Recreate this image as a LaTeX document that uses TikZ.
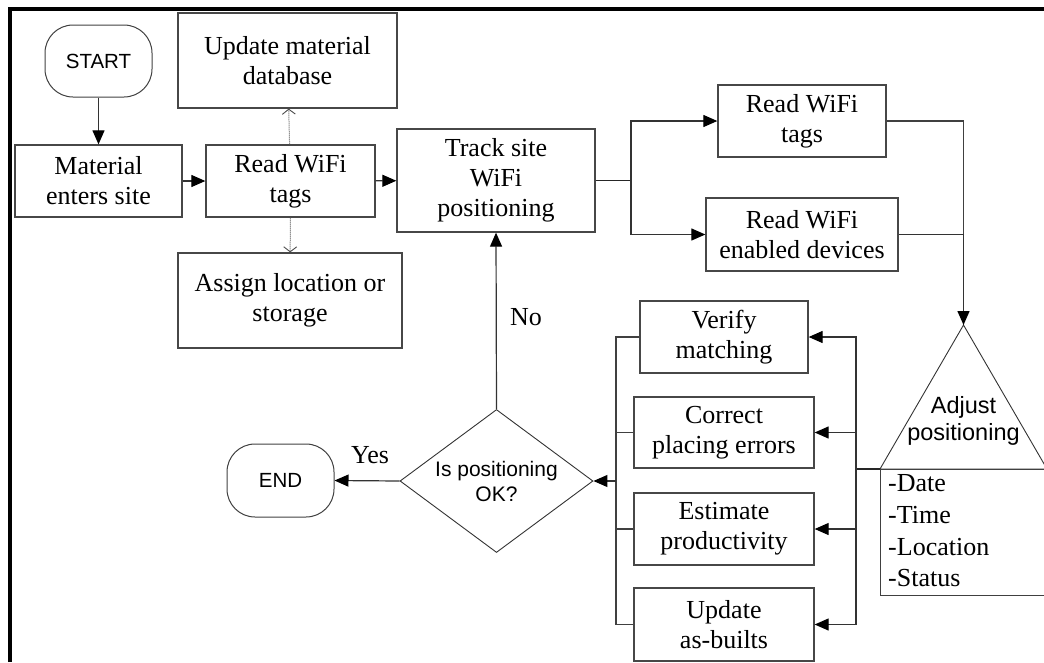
\documentclass[tikz,border=0pt]{standalone}
\usepackage{fontspec}
\setmainfont{Liberation Serif}
\newfontfamily\sansf{Liberation Sans}
\usetikzlibrary{arrows.meta,shapes.geometric}
\newcommand\serifbig{\fontsize{26}{30}\selectfont}
\tikzset{
  box/.style={draw=black!72, line width=1.3pt, inner sep=0pt, align=center, font=\serifbig},
  term/.style={draw=black!75, line width=1pt, rounded corners=28pt, minimum width=107pt,
    minimum height=72pt, inner sep=0pt, font=\sansf\fontsize{20.5}{24}\selectfont},
  dia/.style={diamond, draw=black!80, line width=0.9pt, aspect=1.35, inner sep=0pt,
    minimum width=193pt, minimum height=143pt, align=center, font=\sansf\fontsize{21}{25}\selectfont},
  arr/.style={draw=black!80, line width=1.2pt, -{Triangle[length=14pt,width=12pt,color=black]}},
  ln/.style={draw=black!75, line width=1.2pt},
  thk/.style={draw=black!85, line width=1.8pt},
  dotarr/.style={draw=black!65, densely dotted, line width=1pt,
    -{Straight Barb[length=5pt,width=13pt,line width=0.9pt,color=black!70]}},
  tri/.style={draw=black!80, line width=0.9pt},
  lbl/.style={font=\serifbig, inner sep=0pt, anchor=base}
}
\begin{document}
\begin{tikzpicture}[x=1pt,y=-1pt]
\useasboundingbox (0,0) rectangle (1044,662);
% frame
\draw[line width=3.2pt] (10,662) -- (10,9) -- (1044,9);

% nodes
\node[term] (start) at (98.5,61) {START};
\node[box, minimum width=167pt, minimum height=72pt] (material) at (98.5,181) {Material\\enters site};
\node[box, minimum width=169pt, minimum height=72pt] (read1) at (290.5,181) {Read WiFi\\tags};
\node[box, minimum width=219pt, minimum height=95pt] (update) at (287.5,60.5) {Update material\\database};
\node[box, minimum width=224pt, minimum height=95pt] (assign) at (290,300.5) {Assign location or\\storage};
\node[box, minimum width=198pt, minimum height=103pt] (track) at (496,180.5) {Track site\\WiFi\\positioning};
\node[box, minimum width=168pt, minimum height=72pt] (read2) at (802,121) {Read WiFi\\tags};
\node[box, minimum width=192pt, minimum height=73pt] (read3) at (802,234.5) {Read WiFi\\enabled devices};
\node[box, minimum width=168pt, minimum height=72pt] (verify) at (724,337) {Verify\\matching};
\node[box, minimum width=180pt, minimum height=71pt] (correct) at (724,432.5) {Correct\\placing errors};
\node[box, minimum width=180pt, minimum height=72pt] (estimate) at (724,529) {Estimate\\productivity};
\node[box, minimum width=180pt, minimum height=73pt] (asbuilt) at (724,624.5) {Update\\as-builts};
\node[dia] (dia) at (496.5,481) {Is positioning\\OK?};
\node[term, minimum height=73pt] (end) at (280.5,480.5) {END};

% triangle and data box
\coordinate (apex) at (963.5,325);
\coordinate (tl) at (880,469);
\coordinate (tr) at (1047,469);
\draw[tri] (apex) -- (tl) -- (tr) -- cycle;
\node[font=\sansf\fontsize{23.5}{27}\selectfont, align=center, inner sep=0pt] (adjust) at (963.5,421) {Adjust\\positioning};
\node[draw=black!75, line width=1.2pt, minimum width=167pt, minimum height=126pt, inner sep=0pt, anchor=north west] (data) at (880,469) {};
\node[anchor=west, align=left, inner sep=0pt, font=\fontsize{26}{31.7}\selectfont] (datatext) at (888,531) {-Date\\-Time\\-Location\\-Status};

% connectors
\draw[arr] (start) -- (material);
\draw[arr] (material) -- (read1);
\draw[dotarr] (read1) -- (update);
\draw[dotarr] (read1) -- (assign);
\draw[arr] (read1) -- (track);

\coordinate (br) at (631,180.5);
\draw[thk] (track.east) -- (br);
\draw[arr] (br) |- (read2.west);
\draw[arr] (br) |- (read3.west);

\draw[ln] (read2.east) -| (apex);
\draw[arr, line width=1.5pt] (read3.east) -| (apex);

\coordinate (rb) at (856,469);
\draw[thk] (tl) -- (rb);
\draw[arr] (rb) |- (verify.east);
\draw[arr] (rb) |- (correct.east);
\draw[arr] (rb) |- (estimate.east);
\draw[arr] (rb) |- (asbuilt.east);

\coordinate (lb) at (616,481);
\draw[ln] (verify.west) -| (lb);
\draw[ln] (correct.west) -| (lb);
\draw[ln] (estimate.west) -| (lb);
\draw[ln] (asbuilt.west) -| (lb);
\draw[arr] (lb) -- (dia.east);

\draw[arr] (dia.west) -- (end.east);
\draw[arr] (dia.north) -- (track.south);

\node[lbl] (yes) at (370,463) {Yes};
\node[lbl] (no) at (526,325) {No};
\end{tikzpicture}
\end{document}
